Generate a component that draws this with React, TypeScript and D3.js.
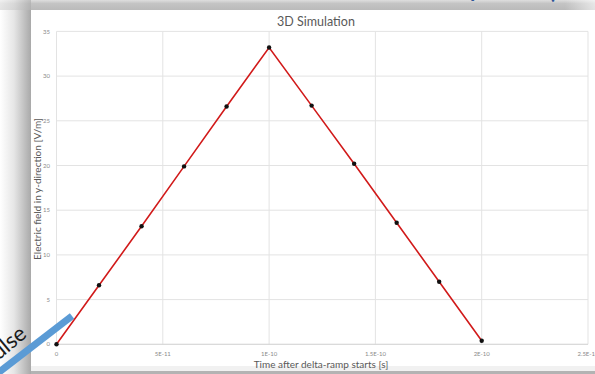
import React from "react";
import * as d3 from "d3";

// Sampled field at the probe point during the delta ramp
const timeSeconds = [0, 2e-11, 4e-11, 6e-11, 8e-11, 1e-10, 1.2e-10, 1.4e-10, 1.6e-10, 1.8e-10, 2e-10];
const fieldValues = [0, 6.6, 13.2, 19.9, 26.6, 33.2, 26.7, 20.2, 13.6, 7.0, 0.4];

const xTicks = [0, 5e-11, 1e-10, 1.5e-10, 2e-10, 2.5e-10];
const xTickLabels = ["0", "5E-11", "1E-10", "1.5E-10", "2E-10", "2.5E-10"];
const yTicks = [0, 5, 10, 15, 20, 25, 30, 35];

const W = 595;
const H = 374;
const FONT = "Lato, 'Open Sans', sans-serif";

export default function App() {
  const x = d3.scaleLinear().domain([0, 2.5e-10]).range([56.5, 588]);
  const y = d3.scaleLinear().domain([0, 35]).range([344.3, 31.4]);

  const pts: [number, number][] = timeSeconds.map((t, i) => [t, fieldValues[i]]);
  const line = d3
    .line<[number, number]>()
    .x((d) => x(d[0]))
    .y((d) => y(d[1]));

  return (
    <div style={{ position: "fixed", left: 0, top: 0 }}>
      <svg width={W} height={H} style={{ display: "block" }}>
        <defs>
          <linearGradient id="leftShade" x1="0" x2="1" y1="0" y2="0">
            <stop offset="0" stopColor="#ffffff" />
            <stop offset="0.45" stopColor="#e6e6e6" />
            <stop offset="1" stopColor="#a9a9a9" />
          </linearGradient>
          <linearGradient id="topShade" x1="0" x2="0" y1="0" y2="1">
            <stop offset="0" stopColor="#dedede" />
            <stop offset="0.35" stopColor="#c4c4c4" />
            <stop offset="1" stopColor="#bababa" />
          </linearGradient>
          <linearGradient id="topFade" x1="0" x2="1" y1="0" y2="0">
            <stop offset="0" stopColor="#ffffff" stopOpacity="0" />
            <stop offset="1" stopColor="#ffffff" stopOpacity="0.6" />
          </linearGradient>
        </defs>

        {/* slide background and frame shadow */}
        <rect x={0} y={0} width={W} height={H} fill="#ffffff" />
        <rect x={0} y={0} width={31} height={H} fill="url(#leftShade)" />
        <rect x={0} y={0} width={W} height={10} fill="url(#topShade)" />
        <rect x={0} y={0} width={31} height={10} fill="url(#leftShade)" opacity={0.6} />
        <rect x={565} y={0} width={30} height={10} fill="url(#topFade)" />
        <rect x={31} y={366} width={W - 31} height={5} fill="#f1f1f1" />
        <rect x={31} y={371} width={W - 31} height={3} fill="#b3b3b3" />

        {/* chart panel */}
        <rect x={31} y={10} width={W - 31} height={356} fill="#ffffff" />

        {/* slide heading descenders peeking in at the top */}
        <text x={468} y={-4} fontFamily={FONT} fontSize={26} fill="#2f5597" fontWeight={600}>
          y
        </text>
        <text x={548} y={-2} fontFamily={FONT} fontSize={26} fill="#2f5597" fontWeight={600}>
          (
        </text>

        {/* gridlines */}
        {yTicks.map((t) => (
          <line key={"gy" + t} x1={56.5} x2={588} y1={y(t)} y2={y(t)} stroke="#e3e3e3" strokeWidth={1} />
        ))}
        {xTicks.map((t) => (
          <line key={"gx" + t} x1={x(t)} x2={x(t)} y1={31.4} y2={344.3} stroke="#e3e3e3" strokeWidth={1} />
        ))}
        <line x1={56.5} x2={588} y1={y(0)} y2={y(0)} stroke="#d6d6d6" strokeWidth={1} />

        {/* tick labels */}
        {yTicks.map((t) => (
          <text
            key={"ly" + t}
            x={50}
            y={y(t)}
            dy="0.35em"
            textAnchor="end"
            fontFamily={FONT}
            fontSize={6}
            fill="#8a8a8a"
          >
            {t}
          </text>
        ))}
        {xTicks.map((t, i) => (
          <text
            key={"lx" + t}
            x={x(t)}
            y={354}
            dy="0.35em"
            textAnchor="middle"
            fontFamily={FONT}
            fontSize={6}
            fill="#8a8a8a"
          >
            {xTickLabels[i]}
          </text>
        ))}

        {/* titles */}
        <text x={316} y={22} dy="0.35em" textAnchor="middle" fontFamily={FONT} fontSize={12.5} fill="#595959">
          3D Simulation
        </text>
        <text x={321} y={364} dy="0.35em" textAnchor="middle" fontFamily={FONT} fontSize={10} fill="#595959">
          Time after delta-ramp starts [s]
        </text>
        <text
          transform="translate(37.5,189) rotate(-90)"
          dy="0.35em"
          textAnchor="middle"
          fontFamily={FONT}
          fontSize={10}
          fill="#595959"
        >
          Electric field in y-direction [V/m]
        </text>

        {/* series */}
        <path d={line(pts) ?? ""} fill="none" stroke="#d11a1a" strokeWidth={1.6} />
        {pts.map((d, i) => (
          <circle key={"p" + i} cx={x(d[0])} cy={y(d[1])} r={2.2} fill="#111111" />
        ))}

        {/* callout arrow and its label from the slide */}
        <line x1={-2} y1={373} x2={72} y2={316} stroke="#5b9bd5" strokeWidth={7} />
        <text
          transform="translate(28,336) rotate(-40)"
          textAnchor="end"
          fontFamily={FONT}
          fontSize={22}
          fill="#1a1a1a"
        >
          Pulse
        </text>
      </svg>
    </div>
  );
}
